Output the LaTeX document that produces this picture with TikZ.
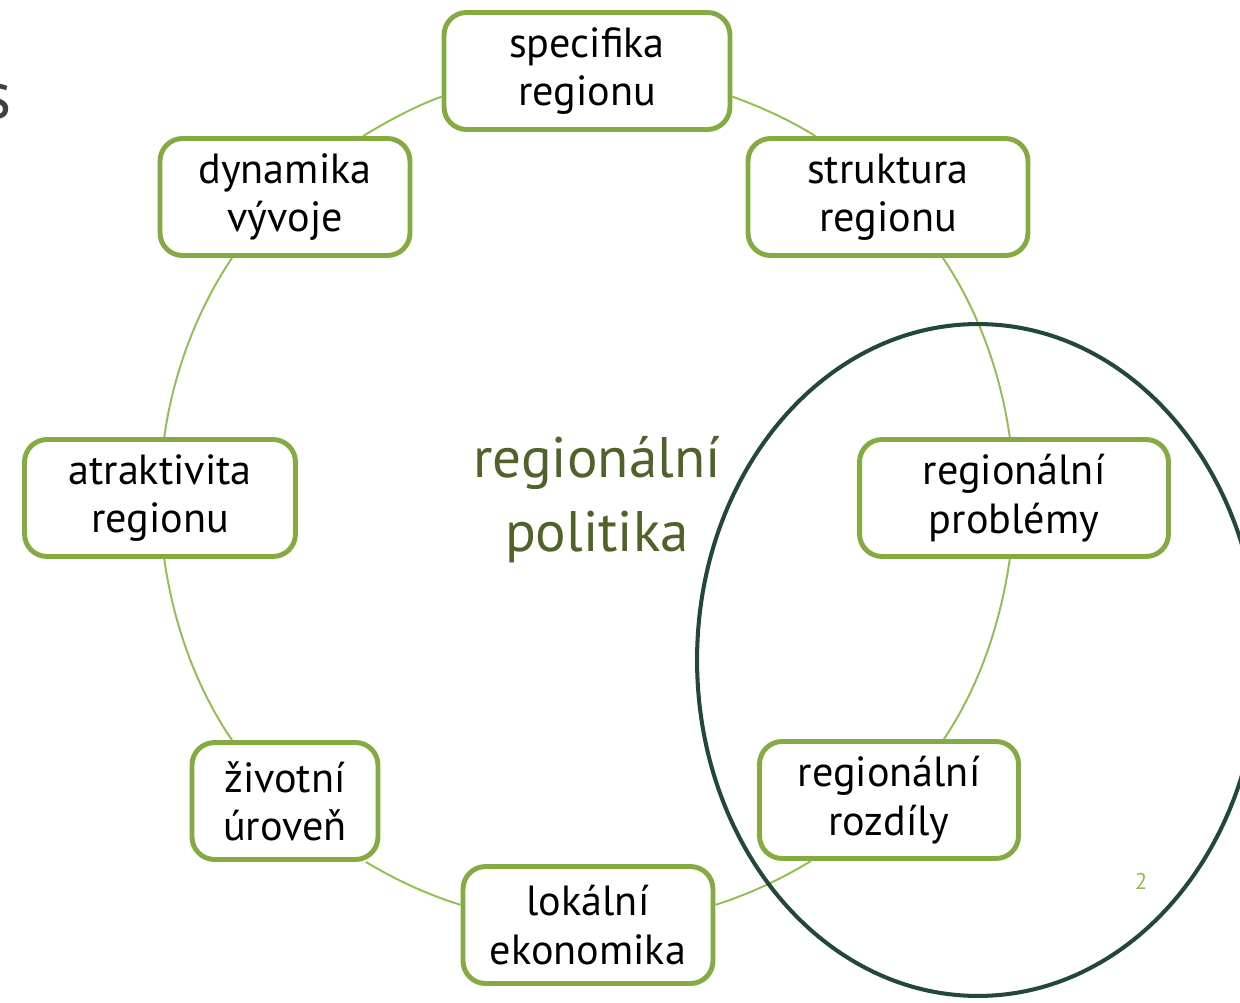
\documentclass[tikz,border=0pt]{standalone}
\usepackage{fontspec}
\setmainfont{PT Sans}
\usepackage{tikz}
\usetikzlibrary{positioning}
\definecolor{boxgreen}{RGB}{132,170,66}
\definecolor{ringgreen}{RGB}{146,190,80}
\definecolor{olive}{RGB}{79,98,40}
\definecolor{darkring}{RGB}{34,72,58}

\begin{document}
\begin{tikzpicture}[x=0.02cm,y=-0.02cm,
	box/.style={draw=boxgreen,fill=white,line width=2.8pt,rounded corners=0.45cm,minimum height=2.34cm,align=center,font=\fontsize{24}{27.5}\selectfont},
	ring/.style={draw=ringgreen,line width=1.1pt,looseness=0.85}]
	\useasboundingbox (0,0) rectangle (1240,1003);
	% reste der folie links
	\node[text=black!75,font=\fontsize{38}{40}\selectfont,anchor=base] (s) at (-2,119) {s};
	\node[text=black!75,font=\fontsize{38}{40}\selectfont,anchor=base] (dot) at (-4,236) {.};
	
	\node[box,minimum width=5.72cm] at (587,71) (N1) {specifika\\regionu};
	\node[box,minimum width=5.6cm] at (888,197) (N2) {struktura\\regionu};
	\node[box,minimum width=6.18cm] at (1014,498) (N3) {regionální\\problémy};
	\node[box,minimum width=5.18cm] at (889,800) (N4) {regionální\\rozdíly};
	\node[box,minimum width=5.0cm] at (588,925) (N5) {lokální\\ekonomika};
	\node[box,minimum width=3.72cm] at (285,801) (N6) {životní\\úroveň};
	\node[box,minimum width=5.42cm] at (160,498) (N7) {atraktivita\\regionu};
	\node[box,minimum width=5.0cm] at (285,197) (N8) {dynamika\\vývoje};
	
	% kreisboegen zwischen den kaesten
	\draw[ring] (N1.-10) to[out=-20,in=148] (N2.140);
	\draw[ring] (N2.-48.5) to[out=-56,in=98] (N3.94);
	\draw[ring] (N3.-94) to[out=-98,in=56] (N4.48.5);
	\draw[ring] (N4.-142) to[out=-148.5,in=17.5] (N5.9);
	\draw[ring] (N5.171) to[out=163,in=-31] (N6.-37);
	\draw[ring] (N6.131) to[out=124.5,in=-82] (N7.-86);
	\draw[ring] (N7.86) to[out=82,in=-124] (N8.-131);
	\draw[ring] (N8.38) to[out=31,in=-160] (N1.-170);
	
	\node[text=olive,align=center,font=\fontsize{32.5}{42}\selectfont] at (597,500) (T) {regionální\\politika};
	
	\draw[draw=darkring,line width=2.3pt] (978,660) ellipse [x radius=5.62cm, y radius=6.72cm];
	
	\node[text=ringgreen,font=\fontsize{13}{15}\selectfont] at (1141,881) (P) {2};
\end{tikzpicture}
\end{document}
